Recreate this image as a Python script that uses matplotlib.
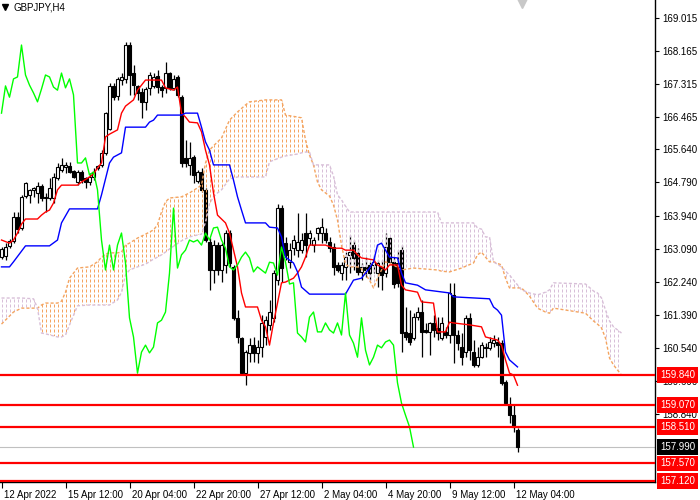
import matplotlib
matplotlib.use("Agg")
import matplotlib.pyplot as plt
import matplotlib.transforms as mtransforms
from matplotlib.path import Path
import numpy as np

plt.rcParams['font.family'] = ['Liberation Sans', 'DejaVu Sans']

# GBPJPY H4 candles (prices)
opens = [162.87, 162.90, 163.16, 163.28, 163.90, 163.62, 164.44, 164.47, 164.60, 164.52,
         164.70, 164.42, 164.39, 164.39, 164.90, 165.11, 165.19, 165.21, 165.08, 164.80,
         165.06, 164.90, 164.80, 164.93, 165.16, 165.24, 165.55, 166.16, 167.27, 167.01,
         167.42, 167.45, 168.32, 167.60, 167.27, 167.11, 166.86, 167.22, 167.27, 167.52,
         167.24, 167.22, 167.60, 167.22, 167.50, 166.98, 165.42, 165.24, 165.44, 164.83,
         165.06, 164.60, 163.26, 162.54, 163.18, 162.54, 162.67, 163.49, 162.62, 161.31,
         160.79, 159.89, 160.41, 160.61, 160.41, 160.56, 160.82, 161.13, 161.31, 162.28,
         164.13, 163.23, 162.74, 163.10, 163.05, 163.05, 163.49, 163.36, 163.18, 163.49,
         163.49, 163.49, 163.26, 163.13, 162.67, 162.46, 162.62, 162.92, 163.18, 162.98,
         162.49, 162.62, 162.67, 162.67, 162.46, 162.62, 162.46, 163.36, 162.74, 162.72,
         163.05, 160.95, 160.92, 160.79, 161.33, 161.46, 161.00, 160.95, 161.18, 161.05,
         160.79, 160.95, 160.87, 161.90, 160.87, 160.56, 160.43, 161.31, 160.43, 160.10,
         160.30, 160.56, 160.54, 160.66, 160.69, 160.66, 159.66, 159.07, 158.81, 158.43]
highs = [163.13, 163.23, 163.34, 164.03, 164.03, 164.47, 164.80, 164.62, 164.67, 164.80,
         164.75, 164.52, 164.90, 165.03, 165.29, 165.42, 165.31, 165.31, 165.11, 165.11,
         165.11, 164.93, 165.03, 165.16, 165.24, 165.62, 166.60, 167.34, 167.34, 167.50,
         167.60, 168.40, 168.40, 167.81, 167.29, 167.22, 167.24, 167.63, 167.60, 167.68,
         167.29, 167.88, 167.63, 167.55, 167.55, 167.04, 165.88, 165.83, 165.49, 165.11,
         165.16, 164.65, 163.36, 163.31, 163.26, 163.23, 163.57, 163.57, 162.67, 161.51,
         160.82, 160.48, 160.79, 160.82, 160.74, 161.38, 161.36, 161.77, 162.54, 164.24,
         164.21, 163.39, 163.23, 163.44, 164.00, 163.49, 164.00, 163.57, 163.39, 163.64,
         163.88, 163.62, 163.39, 163.23, 162.74, 162.74, 163.00, 163.44, 163.31, 163.10,
         162.72, 162.87, 162.74, 162.92, 162.80, 162.80, 163.49, 163.39, 162.87, 163.05,
         163.18, 161.59, 161.51, 161.43, 161.59, 161.77, 161.18, 161.20, 161.38, 161.33,
         161.33, 161.07, 162.21, 162.21, 161.00, 160.92, 161.38, 161.43, 160.74, 160.56,
         160.69, 160.66, 160.82, 160.87, 160.82, 160.74, 159.71, 159.28, 159.07, 158.48]
lows = [162.82, 162.80, 163.10, 163.23, 163.49, 163.57, 164.39, 164.26, 164.42, 164.26,
        164.31, 164.03, 164.34, 164.26, 164.85, 165.06, 165.03, 165.03, 164.90, 164.72,
        164.78, 164.65, 164.72, 164.85, 165.11, 165.19, 165.49, 166.14, 166.91, 166.91,
        167.29, 167.34, 167.04, 167.04, 166.91, 166.45, 166.65, 167.04, 167.22, 167.09,
        166.98, 167.09, 167.16, 167.16, 166.98, 165.19, 165.19, 164.98, 164.78, 164.78,
        164.54, 163.26, 162.03, 162.21, 162.41, 162.23, 162.46, 162.62, 161.25, 160.66,
        159.84, 159.58, 160.18, 160.18, 160.15, 160.30, 160.61, 161.00, 161.20, 162.15,
        162.23, 162.80, 162.59, 162.93, 162.87, 162.98, 162.87, 163.18, 163.00, 163.31,
        163.23, 163.23, 163.00, 162.41, 162.49, 162.28, 162.28, 162.46, 162.54, 162.41,
        162.28, 162.36, 162.28, 162.46, 162.10, 162.03, 162.36, 162.74, 162.08, 162.10,
        160.43, 160.74, 160.61, 160.74, 161.25, 160.30, 160.92, 160.36, 160.82, 160.74,
        160.74, 160.79, 160.66, 160.15, 160.48, 160.10, 160.30, 160.23, 160.05, 160.05,
        160.28, 160.30, 160.48, 160.56, 160.30, 159.58, 159.07, 158.61, 158.38, 157.86]
closes = [163.08, 163.13, 163.28, 163.90, 163.59, 164.42, 164.78, 164.60, 164.65, 164.70,
          164.39, 164.39, 164.65, 164.93, 165.19, 165.24, 165.24, 165.06, 164.93, 165.06,
          164.85, 164.80, 164.93, 165.06, 165.21, 165.55, 166.57, 167.27, 166.98, 167.45,
          167.50, 168.32, 167.55, 167.29, 167.09, 166.86, 167.19, 167.55, 167.50, 167.24,
          167.16, 167.60, 167.22, 167.45, 167.04, 165.29, 165.29, 165.42, 164.98, 165.06,
          164.60, 163.31, 162.54, 163.18, 162.54, 163.18, 163.49, 162.72, 161.31, 160.82,
          159.89, 160.43, 160.61, 160.41, 160.56, 161.18, 161.25, 161.46, 162.46, 164.13,
          162.59, 162.93, 163.05, 163.31, 163.26, 163.31, 163.18, 163.49, 163.31, 163.62,
          163.64, 163.31, 163.10, 162.62, 162.54, 162.67, 162.87, 163.00, 162.85, 162.49,
          162.62, 162.54, 162.46, 162.74, 162.72, 162.41, 163.13, 162.74, 162.18, 162.21,
          160.92, 160.82, 160.69, 161.33, 161.46, 160.95, 160.95, 161.18, 161.00, 160.92,
          161.18, 160.87, 161.95, 160.87, 160.66, 160.30, 161.31, 160.48, 160.10, 160.30,
          160.61, 160.54, 160.69, 160.74, 160.61, 159.64, 159.12, 158.81, 158.51, 157.99]

# Ichimoku lines (bar index, price)
tenkan_idx = [0, 2, 3, 4, 5, 6, 9, 10, 11, 12, 13, 14, 15, 19, 20, 22, 23, 24, 25, 26,
              27, 29, 30, 31, 33, 34, 36, 40, 41, 43, 44, 45, 46, 47, 49, 50, 51, 52, 53, 54,
              56, 57, 59, 60, 61, 64, 65, 66, 67, 68, 69, 70, 71, 73, 74, 75, 76, 77, 81, 83,
              85, 86, 88, 89, 90, 93, 94, 95, 96, 97, 99, 100, 101, 104, 105, 108, 109, 111, 112, 113,
              117, 120, 121, 124, 125, 126, 127, 128, 129]
tenkan_val = [163.31, 163.23, 163.31, 163.49, 163.72, 163.85, 163.85, 163.95, 164.03, 164.08,
              164.26, 164.60, 164.72, 164.72, 164.80, 164.93, 165.01, 165.16, 165.29, 165.96,
              166.03, 166.14, 166.57, 166.75, 166.91, 167.16, 167.42, 167.42, 167.22, 167.16,
              167.24, 166.57, 166.47, 166.34, 166.32, 166.09, 165.62, 165.24, 164.52, 163.95,
              163.75, 163.49, 162.62, 161.95, 161.59, 161.59, 161.25, 161.08, 160.61, 161.18,
              161.69, 162.21, 162.23, 162.33, 162.46, 162.62, 162.87, 163.18, 163.18, 163.10,
              163.10, 163.05, 163.05, 162.93, 162.85, 162.80, 162.67, 162.62, 162.54, 162.67,
              162.67, 162.15, 162.03, 161.97, 161.72, 161.69, 160.95, 160.95, 161.20, 161.18,
              161.13, 161.08, 160.82, 160.74, 160.61, 160.23, 159.89, 159.84, 159.58]
kijun_idx = [0, 2, 3, 6, 12, 14, 15, 17, 24, 25, 27, 28, 30, 31, 36, 37, 38, 39, 45, 46,
             49, 50, 51, 52, 53, 57, 58, 59, 60, 61, 66, 67, 69, 70, 71, 73, 74, 75, 77, 86,
             87, 88, 90, 92, 93, 94, 95, 96, 97, 99, 100, 101, 104, 106, 112, 113, 122, 123, 124, 125,
             126, 127, 129]
kijun_val = [162.62, 162.62, 162.75, 163.16, 163.16, 163.31, 163.75, 164.11, 164.11, 164.47,
             165.29, 165.44, 165.55, 166.21, 166.21, 166.34, 166.39, 166.52, 166.52, 166.57,
             166.57, 166.21, 165.83, 165.62, 165.24, 165.24, 164.85, 164.42, 164.08, 163.75,
             163.75, 163.64, 163.62, 163.39, 162.87, 162.72, 162.49, 162.10, 161.92, 161.92,
             162.10, 162.28, 162.33, 162.59, 162.75, 163.18, 163.23, 163.05, 162.87, 162.85,
             162.46, 162.21, 162.15, 162.03, 161.95, 161.85, 161.80, 161.59, 161.51, 161.38,
             160.43, 160.23, 160.05]
chikou_shift = 26

cloud_idx = [0, 3, 5, 8, 9, 10, 11, 14, 15, 16, 17, 19, 22, 24, 25, 26, 27, 29, 30, 31,
             32, 34, 36, 38, 39, 40, 41, 42, 45, 47, 49, 50, 51, 52, 53, 54, 55, 57, 59, 61,
             62, 66, 67, 70, 71, 74, 75, 76, 77, 78, 79, 80, 82, 83, 84, 85, 86, 87, 89, 90,
             92, 93, 94, 96, 98, 100, 103, 109, 110, 112, 115, 118, 119, 120, 121, 122, 123, 125, 126, 127,
             130, 132, 134, 136, 137, 138, 146, 148, 149, 150, 151, 152, 153, 155]
span_a = [161.15, 161.46, 161.56, 161.56, 161.56, 161.64, 161.69, 161.69, 161.74, 161.97,
          162.33, 162.59, 162.62, 162.75, 162.87, 162.95, 162.98, 162.98, 163.00, 163.18,
          163.23, 163.36, 163.46, 163.57, 163.70, 164.03, 164.29, 164.39, 164.42, 164.52,
          164.65, 164.72, 165.29, 165.62, 165.73, 165.83, 165.93, 166.39, 166.60, 166.78,
          166.86, 166.91, 166.91, 166.91, 166.52, 166.47, 166.45, 165.88, 165.49, 165.24,
          164.80, 164.60, 164.44, 164.21, 163.82, 163.18, 162.69, 162.62, 162.62, 162.57,
          162.28, 162.08, 162.33, 162.75, 162.67, 162.54, 162.59, 162.54, 162.51, 162.49,
          162.59, 162.72, 162.93, 163.00, 162.87, 162.75, 162.75, 162.67, 162.33, 162.08,
          162.08, 161.87, 161.56, 161.46, 161.43, 161.56, 161.43, 161.23, 161.15, 161.05,
          160.79, 160.28, 160.10, 159.84]
span_b = [161.82, 161.82, 161.82, 161.80, 161.56, 160.92, 160.90, 160.82, 160.82, 160.87,
          161.13, 161.62, 161.64, 161.64, 161.64, 161.64, 161.64, 161.77, 161.97, 162.41,
          162.54, 162.62, 162.69, 162.82, 162.87, 162.93, 163.00, 163.08, 163.29, 163.39,
          163.44, 163.46, 163.77, 164.24, 164.42, 164.52, 164.60, 164.88, 164.93, 164.93,
          164.93, 164.93, 165.32, 165.44, 165.47, 165.52, 165.55, 165.57, 165.57, 165.24,
          165.24, 165.24, 165.24, 164.95, 164.47, 164.34, 164.18, 164.03, 164.03, 164.03,
          164.03, 164.03, 164.03, 164.03, 164.03, 164.03, 164.03, 164.03, 163.75, 163.75,
          163.75, 163.75, 163.62, 163.59, 163.39, 163.39, 162.75, 162.62, 162.51, 162.41,
          162.03, 161.95, 161.90, 161.97, 162.03, 162.21, 162.18, 162.00, 161.95, 161.82,
          161.51, 161.23, 161.08, 160.92]

levels = [159.840, 159.070, 158.510, 157.570, 157.120]
bid = 157.990
price_ticks = [169.015, 168.165, 167.315, 166.465, 165.640, 164.790, 163.940,
               163.090, 162.240, 161.390, 160.540, 159.690, 158.840]
time_ticks = [0, 16, 32, 48, 64, 80, 96, 112, 128]
time_labels = ["12 Apr 2022", "15 Apr 12:00", "20 Apr 04:00", "22 Apr 20:00",
               "27 Apr 12:00", "2 May 04:00", "4 May 20:00", "9 May 12:00", "12 May 04:00"]

fig = plt.figure(figsize=(7, 5), dpi=100)
ax = fig.add_axes([0, 18 / 500, 655 / 700, 482 / 500])
ymin, ymax = 157.093, 169.477
ax.set_xlim(-0.375, 163.375)
ax.set_ylim(ymin, ymax)

o = np.array(opens); h = np.array(highs); l = np.array(lows); c = np.array(closes)
bars = np.arange(len(c))
up = c >= o

# candles
ax.vlines(bars, l, h, color='black', lw=0.9, zorder=2)
ax.bar(bars[up], (c - o)[up], bottom=o[up], width=0.6, facecolor='white',
       edgecolor='black', lw=0.8, zorder=3)
ax.bar(bars[~up], (o - c)[~up], bottom=c[~up], width=0.6, facecolor='black',
       edgecolor='black', lw=0.8, zorder=3)

# kumo, dashed vertical strokes per bar clipped to the cloud
px = 0.72  # one pixel in points
dash = (0, (3, 2))
ci = np.array(cloud_idx); A = np.array(span_a); B = np.array(span_b)
bull = ax.fill_between(ci, A, B, where=A >= B, interpolate=True, facecolor='none', edgecolor='none')
bear = ax.fill_between(ci, A, B, where=A < B, interpolate=True, facecolor='none', edgecolor='none')
for coll, col in ((bull, '#F4A460'), (bear, '#D8BFD8')):
    paths = coll.get_paths()
    if not paths:
        continue
    clip = Path.make_compound_path(*paths)
    vl = ax.vlines(np.arange(ci[0], ci[-1] + 1), ymin, ymax, colors=col, lw=px,
                   linestyles=dash, zorder=4)
    vl.set_snap(True)
    vl.set_clip_path(clip, ax.transData)
ax.plot(ci, A, color='#F4A460', lw=1.0, ls=(0, (2.2, 1.5)), zorder=4)
ax.plot(ci, B, color='#D8BFD8', lw=1.0, ls=(0, (2.2, 1.5)), zorder=4)

# tenkan, kijun, chikou
ax.plot(tenkan_idx, tenkan_val, color='red', lw=1.0, zorder=5)
ax.plot(kijun_idx, kijun_val, color='blue', lw=1.0, zorder=5)
ax.plot(bars[:-chikou_shift], c[chikou_shift:], color='#00FF00', lw=1.0, zorder=5)

# levels
ax.axhline(bid, color='#C0C0C0', lw=0.8, zorder=1)
for lv in levels:
    ax.axhline(lv, color='red', lw=1.6, zorder=6)

# axes styling
for side in ('top', 'left'):
    ax.spines[side].set_visible(False)
for side in ('right', 'bottom'):
    ax.spines[side].set_color('black')
    ax.spines[side].set_linewidth(1.0)
ax.yaxis.tick_right()
ax.set_yticks(price_ticks)
ax.set_yticklabels([f'{p:.3f}' for p in price_ticks])
ax.tick_params(axis='y', direction='out', length=3, width=0.8, labelsize=7, pad=2)
ax.set_xticks(time_ticks)
ax.set_xticklabels(time_labels)
ax.tick_params(axis='x', direction='out', length=4, width=0.8, labelsize=7, pad=2)
shift = mtransforms.ScaledTranslation(2 / 100, 0, fig.dpi_scale_trans)
for lab in ax.get_xticklabels():
    lab.set_ha('left')
    lab.set_transform(lab.get_transform() + shift)

# price tags on the right scale
trans = mtransforms.blended_transform_factory(ax.transAxes, ax.transData)
for lv in levels:
    ax.text(1 + 5 / 655, lv, f'{lv:.3f}', transform=trans, color='white', fontsize=7,
            va='center', ha='left', clip_on=False, zorder=10,
            bbox=dict(boxstyle='square,pad=0.28', fc='red', ec='none'))
ax.text(1 + 5 / 655, bid, f'{bid:.3f}', transform=trans, color='white', fontsize=7,
        va='center', ha='left', clip_on=False, zorder=10,
        bbox=dict(boxstyle='square,pad=0.28', fc='black', ec='none'))

# header
ax.plot([5 / 655], [1 - 7 / 482], marker='v', color='black', markersize=4,
        transform=ax.transAxes, clip_on=False)
ax.text(13 / 655, 1 - 7 / 482, 'GBPJPY,H4', transform=ax.transAxes, fontsize=7,
        va='center', ha='left')
ax.plot([522 / 655], [1 - 2 / 482], marker='v', color='#C8C8C8', markersize=8,
        transform=ax.transAxes, clip_on=False)

fig.savefig('out.png', dpi=100, facecolor='white')
